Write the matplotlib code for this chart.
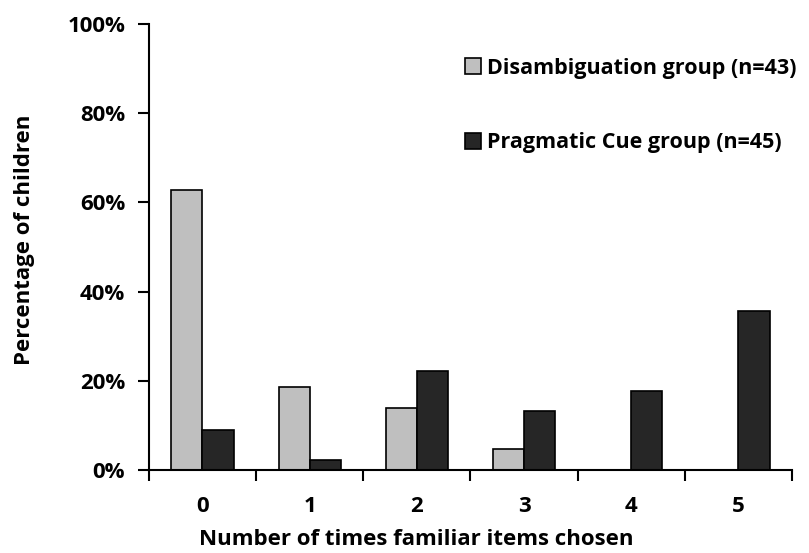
import numpy as np
import matplotlib
matplotlib.use("Agg")
import matplotlib.pyplot as plt
from matplotlib.ticker import PercentFormatter

plt.rcParams["font.family"] = ["Open Sans", "DejaVu Sans"]
plt.rcParams["font.weight"] = "bold"

# Data (percent of children in each group)
categories = ["0", "1", "2", "3", "4", "5"]
disambiguation = [62.8, 18.6, 14.0, 4.7, 0.0, 0.0]
pragmatic = [8.9, 2.2, 22.2, 13.3, 17.8, 35.6]

fig = plt.figure(figsize=(8.09, 5.53), dpi=100)
ax = fig.add_axes([0.184, 0.150, 0.795, 0.8066])

x = np.arange(len(categories))
w = 0.29
ax.bar(x - w / 2, disambiguation, w, color="#bfbfbf", edgecolor="black",
       linewidth=1.2, label="Disambiguation group (n=43)")
ax.bar(x + w / 2, pragmatic, w, color="#262626", edgecolor="black",
       linewidth=1.2, label="Pragmatic Cue group (n=45)")

ax.set_xlim(-0.5, len(categories) - 0.5)
ax.set_ylim(0, 100)
ax.set_yticks(range(0, 101, 20))
ax.yaxis.set_major_formatter(PercentFormatter(decimals=0))

# category ticks between groups, labels centred under them
ax.set_xticks(np.arange(-0.5, len(categories), 1))
ax.set_xticklabels([])
ax.set_xticks(x, minor=True)
ax.set_xticklabels(categories, minor=True)
ax.tick_params(axis="x", which="minor", length=0, pad=19, labelsize=16)
ax.tick_params(axis="x", which="major", direction="out", length=8, width=1.5)
ax.tick_params(axis="y", direction="out", length=8, width=1.5, labelsize=16, pad=9)

for side in ["top", "right"]:
    ax.spines[side].set_visible(False)
for side in ["left", "bottom"]:
    ax.spines[side].set_linewidth(1.5)

ax.set_xlabel("Number of times familiar items chosen", fontsize=16,
              fontweight="bold")
ax.set_ylabel("Percentage of children", fontsize=16, fontweight="bold")
ax.xaxis.set_label_coords(0.415, -0.133)
ax.yaxis.set_label_coords(-0.177, 0.516)

ax.legend(loc="upper left", bbox_to_anchor=(0.461, 0.968), frameon=False,
          fontsize=15.5, handlelength=0.75, handleheight=0.75, handletextpad=0.3,
          labelspacing=2.49)

plt.savefig("out.png", dpi=100)
